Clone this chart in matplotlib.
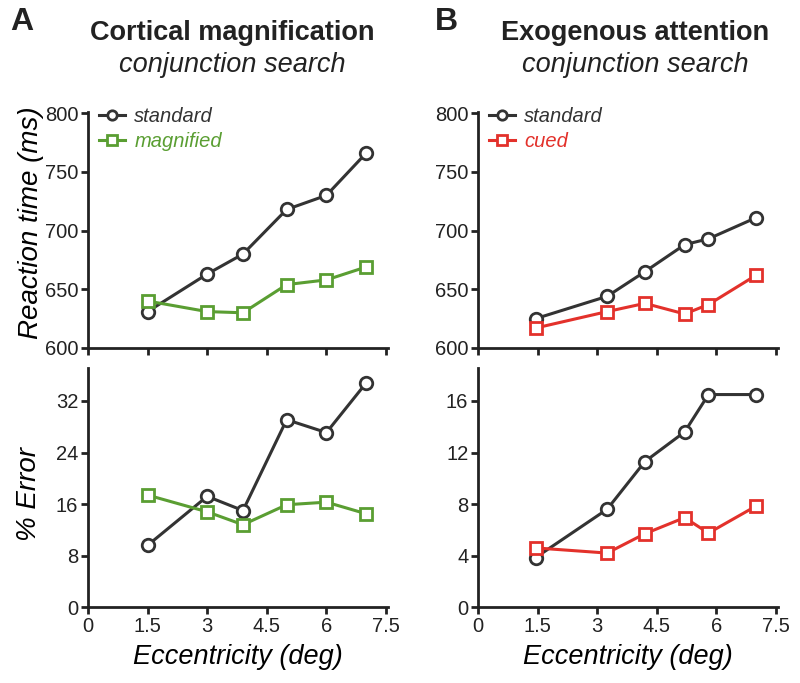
import matplotlib.pyplot as plt

plt.rcParams['font.family'] = ['Liberation Sans', 'DejaVu Sans']

# --- dados: magnificacao cortical ---
ecc_a = [1.5, 3.0, 3.9, 5.0, 6.0, 7.0]
rt_a_standard = [631, 663, 680, 718, 730, 766]
rt_a_magnified = [640, 631, 630, 654, 658, 669]
err_a_standard = [9.6, 17.2, 15.0, 29.1, 27.1, 34.8]
err_a_magnified = [17.4, 14.8, 12.8, 15.9, 16.3, 14.5]

# --- dados: atencao exogena ---
ecc_b = [1.45, 3.25, 4.2, 5.2, 5.8, 7.0]
rt_b_standard = [625, 644, 665, 688, 693, 711]
rt_b_cued = [617, 631, 638, 629, 637, 662]
err_b_standard = [3.85, 7.6, 11.3, 13.6, 16.5, 16.5]
err_b_cued = [4.6, 4.2, 5.7, 6.95, 5.75, 7.85]

x_ticks = [0, 1.5, 3, 4.5, 6, 7.5]
x_ticklabels = ['0', '1.5', '3', '4.5', '6', '7.5']
rt_ticks = [600, 650, 700, 750, 800]
err_a_ticks = [0, 8, 16, 24, 32]
err_b_ticks = [0, 4, 8, 12, 16]

dark = '#333333'
green = '#5a9e32'
red = '#e3312b'

fig = plt.figure(figsize=(8, 6.83), dpi=100)

def style(ax, yticks, ylim):
    for s in ['top', 'right']:
        ax.spines[s].set_visible(False)
    for s in ['left', 'bottom']:
        ax.spines[s].set_linewidth(2)
        ax.spines[s].set_color('#222222')
    ax.set_xlim(0, 7.55)
    ax.set_ylim(*ylim)
    ax.set_xticks(x_ticks)
    ax.set_yticks(yticks)
    ax.tick_params(direction='out', length=5, width=2, labelsize=14.5,
                   colors='#222222', pad=2)

def serie(ax, x, y, color, marker, label):
    ax.plot(x, y, '-', color=color, lw=2.2, marker=marker, ms=9,
            mfc='white', mec=color, mew=2, label=label, clip_on=False)

lx = [0.11, 0.5975]
w = 0.375
ax_a1 = fig.add_axes([lx[0], 0.4905, w, 0.3455])
ax_a2 = fig.add_axes([lx[0], 0.111, w, 0.35])
ax_b1 = fig.add_axes([lx[1], 0.4905, w, 0.3455])
ax_b2 = fig.add_axes([lx[1], 0.111, w, 0.35])

# painel A
serie(ax_a1, ecc_a, rt_a_standard, dark, 'o', 'standard')
serie(ax_a1, ecc_a, rt_a_magnified, green, 's', 'magnified')
style(ax_a1, rt_ticks, (600, 801))
ax_a1.set_xticklabels([])
ax_a1.set_ylabel('Reaction time (ms)', fontsize=20, style='italic')
ax_a1.yaxis.set_label_coords(-0.145, 0.53)

serie(ax_a2, ecc_a, err_a_standard, dark, 'o', 'standard')
serie(ax_a2, ecc_a, err_a_magnified, green, 's', 'magnified')
style(ax_a2, err_a_ticks, (0, 37.1))
ax_a2.set_xticklabels(x_ticklabels)
ax_a2.set_ylabel('% Error', fontsize=20, style='italic')
ax_a2.yaxis.set_label_coords(-0.152, 0.475)
ax_a2.set_xlabel('Eccentricity (deg)', fontsize=19.5, style='italic', labelpad=6)

# painel B
serie(ax_b1, ecc_b, rt_b_standard, dark, 'o', 'standard')
serie(ax_b1, ecc_b, rt_b_cued, red, 's', 'cued')
style(ax_b1, rt_ticks, (600, 801))
ax_b1.set_xticklabels([])

serie(ax_b2, ecc_b, err_b_standard, dark, 'o', 'standard')
serie(ax_b2, ecc_b, err_b_cued, red, 's', 'cued')
style(ax_b2, err_b_ticks, (0, 18.55))
ax_b2.set_xticklabels(x_ticklabels)
ax_b2.set_xlabel('Eccentricity (deg)', fontsize=19.5, style='italic', labelpad=6)

for ax, cor in [(ax_a1, green), (ax_b1, red)]:
    leg = ax.legend(loc='upper left', frameon=False, fontsize=14.5,
                    handlelength=1.3, handletextpad=0.45, borderaxespad=0.0,
                    borderpad=0.1, labelspacing=0.3, markerscale=0.75,
                    bbox_to_anchor=(0.03, 1.03))
    textos = leg.get_texts()
    textos[0].set_color(dark)
    textos[1].set_color(cor)
    for t in textos:
        t.set_style('italic')

# titulos
fig.text(0.29, 0.952, 'Cortical magnification', ha='center', va='center',
         fontsize=19.5, weight='bold', color='#222222')
fig.text(0.29, 0.905, 'conjunction search', ha='center', va='center',
         fontsize=19.5, style='italic', color='#222222')
fig.text(0.794, 0.952, 'Exogenous attention', ha='center', va='center',
         fontsize=19.5, weight='bold', color='#222222')
fig.text(0.794, 0.905, 'conjunction search', ha='center', va='center',
         fontsize=19.5, style='italic', color='#222222')
fig.text(0.013, 0.968, 'A', ha='left', va='center', fontsize=23, weight='bold',
         color='#222222')
fig.text(0.543, 0.968, 'B', ha='left', va='center', fontsize=23, weight='bold',
         color='#222222')

fig.savefig('out.png', dpi=100)
